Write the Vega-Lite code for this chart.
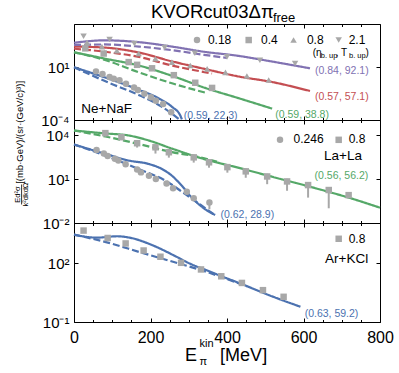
{
"$schema":"https://vega.github.io/schema/vega-lite/v6.json",
"padding":{"left":13,"top":2,"right":2,"bottom":2},
"config":{"font":"Liberation Sans","view":{"stroke":"black","strokeWidth":1},"axis":{"grid":false,"domain":false,"tickColor":"black","labelColor":"black","tickWidth":1}},
"datasets":{
"n1":[
{"E":0,"v":10,"r":"0.18","k":"solid"},{"E":82,"v":1.05,"r":"0.18","k":"solid"},{"E":169,"v":0.0741,"r":"0.18","k":"solid"},{"E":221,"v":0.0115,"r":"0.18","k":"solid"},{"E":256,"v":0.00178,"r":"0.18","k":"solid"},{"E":278,"v":0.000263,"r":"0.18","k":"solid"},{"E":282,"v":0.000112,"r":"0.18","k":"solid"},
{"E":0,"v":10,"r":"0.18","k":"dashed"},{"E":91,"v":0.339,"r":"0.18","k":"dashed"},{"E":169,"v":0.024,"r":"0.18","k":"dashed"},{"E":230,"v":0.00178,"r":"0.18","k":"dashed"},{"E":274,"v":0.000126,"r":"0.18","k":"dashed"},
{"E":57.5,"v":4.07,"r":"0.18","k":"data"},{"E":74.5,"v":2.29,"r":"0.18","k":"data"},{"E":93,"v":1.17,"r":"0.18","k":"data"},{"E":104,"v":0.832,"r":"0.18","k":"data"},{"E":119,"v":0.589,"r":"0.18","k":"data"},{"E":136,"v":0.269,"r":"0.18","k":"data"},{"E":157,"v":0.123,"r":"0.18","k":"data"},{"E":167,"v":0.0692,"r":"0.18","k":"data"},{"E":184,"v":0.0316,"r":"0.18","k":"data"},{"E":201,"v":0.0145,"r":"0.18","k":"data"},{"E":214,"v":0.00676,"r":"0.18","k":"data"},{"E":233,"v":0.00331,"r":"0.18","k":"data"},{"E":254,"v":0.00055,"r":"0.18","k":"data"},
{"E":0,"v":263,"r":"0.4","k":"solid"},{"E":82,"v":64.6,"r":"0.4","k":"solid"},{"E":169,"v":14.8,"r":"0.4","k":"solid"},{"E":256,"v":1.55,"r":"0.4","k":"solid"},{"E":343,"v":0.11,"r":"0.4","k":"solid"},{"E":431,"v":0.0115,"r":"0.4","k":"solid"},{"E":518,"v":0.0012,"r":"0.4","k":"solid"},
{"E":0,"v":263,"r":"0.4","k":"dashed"},{"E":81,"v":49,"r":"0.4","k":"dashed"},{"E":170,"v":3.24,"r":"0.4","k":"dashed"},{"E":256,"v":0.302,"r":"0.4","k":"dashed"},{"E":348,"v":0.0355,"r":"0.4","k":"dashed"},
{"E":29.5,"v":617,"r":"0.4","k":"data"},{"E":77.6,"v":200,"r":"0.4","k":"data"},{"E":143,"v":30.9,"r":"0.4","k":"data"},{"E":165,"v":17,"r":"0.4","k":"data"},{"E":204,"v":7.94,"r":"0.4","k":"data"},{"E":261,"v":1.78,"r":"0.4","k":"data"},{"E":317,"v":0.339,"r":"0.4","k":"data"},{"E":361,"v":0.11,"r":"0.4","k":"data"},
{"E":0,"v":912,"r":"0.8","k":"solid"},{"E":82,"v":724,"r":"0.8","k":"solid"},{"E":169,"v":251,"r":"0.8","k":"solid"},{"E":256,"v":36.3,"r":"0.8","k":"solid"},{"E":343,"v":6.76,"r":"0.8","k":"solid"},{"E":431,"v":1.32,"r":"0.8","k":"solid"},{"E":518,"v":0.398,"r":"0.8","k":"solid"},{"E":617,"v":0.0562,"r":"0.8","k":"solid"},
{"E":0,"v":575,"r":"0.8","k":"dashed"},{"E":81,"v":295,"r":"0.8","k":"dashed"},{"E":170,"v":95.5,"r":"0.8","k":"dashed"},{"E":256,"v":14.8,"r":"0.8","k":"dashed"},{"E":361,"v":2.57,"r":"0.8","k":"dashed"},
{"E":34,"v":2239,"r":"0.8","k":"data"},{"E":73,"v":912,"r":"0.8","k":"data"},{"E":112,"v":372,"r":"0.8","k":"data"},{"E":169,"v":200,"r":"0.8","k":"data"},{"E":213,"v":64.6,"r":"0.8","k":"data"},{"E":256,"v":30.9,"r":"0.8","k":"data"},{"E":304,"v":14.8,"r":"0.8","k":"data"},{"E":348,"v":7.08,"r":"0.8","k":"data"},{"E":396,"v":3.24,"r":"0.8","k":"data"},{"E":452,"v":1.48,"r":"0.8","k":"data"},{"E":509,"v":0.617,"r":"0.8","k":"data"},
{"E":0,"v":2090,"r":"2.1","k":"solid"},{"E":80,"v":3548,"r":"2.1","k":"solid"},{"E":178,"v":2239,"r":"2.1","k":"solid"},{"E":256,"v":912,"r":"2.1","k":"solid"},{"E":340,"v":295,"r":"2.1","k":"solid"},{"E":430,"v":120,"r":"2.1","k":"solid"},{"E":518,"v":34.7,"r":"2.1","k":"solid"},{"E":617,"v":7.94,"r":"2.1","k":"solid"},
{"E":0,"v":1288,"r":"2.1","k":"dashed"},{"E":80,"v":1445,"r":"2.1","k":"dashed"},{"E":170,"v":912,"r":"2.1","k":"dashed"},{"E":256,"v":417,"r":"2.1","k":"dashed"},{"E":340,"v":151,"r":"2.1","k":"dashed"},{"E":400,"v":75.9,"r":"2.1","k":"dashed"},
{"E":25,"v":8710,"r":"2.1","k":"data"},{"E":93,"v":4266,"r":"2.1","k":"data"},{"E":158,"v":1698,"r":"2.1","k":"data"},{"E":237,"v":724,"r":"2.1","k":"data"},{"E":316,"v":214,"r":"2.1","k":"data"},{"E":400,"v":95.5,"r":"2.1","k":"data"},{"E":486,"v":46.8,"r":"2.1","k":"data"},{"E":578,"v":22.9,"r":"2.1","k":"data"}
],
"t1":[
{"E":630,"v":2.06,"t":"(0.84, 92.1)","r":"2.1","role":"lab"},
{"E":630,"v":0.0087,"t":"(0.57, 57.1)","r":"0.8","role":"lab"},
{"E":526,"v":0.000155,"t":"(0.59, 38.8)","r":"0.4","role":"lab"},
{"E":287,"v":0.000138,"t":"(0.59, 22.3)","r":"0.18","role":"lab"},
{"E":19,"v":0.00051,"t":"Ne+NaF","role":"name"},
{"E":624,"v":117,"t":"(η","role":"key"},
{"E":684,"v":117,"t":", T","role":"key"},
{"E":762,"v":117,"t":")","role":"key"},
{"E":645,"v":67.6,"t":"b. up","role":"keysub"},
{"E":719,"v":67.6,"t":"b. up","role":"keysub"},
{"E":321.6,"v":3800,"r":"0.18","role":"keysym"},
{"E":456.7,"v":3800,"r":"0.4","role":"keysym"},
{"E":574,"v":3800,"r":"0.8","role":"keysym"},
{"E":692,"v":3800,"r":"2.1","role":"keysym"},
{"E":350,"v":1510,"t":"0.18","role":"keylab"},
{"E":489,"v":1510,"t":"0.4","role":"keylab"},
{"E":609,"v":1510,"t":"0.8","role":"keylab"},
{"E":718,"v":1510,"t":"2.1","role":"keylab"},
{"E":201,"v":437000,"t":"KVORcut03Δπ","role":"title"},
{"E":520,"v":210000,"t":"free","role":"titlesub"}
],
"n2":[
{"E":0,"v":2400,"r":"0.246","k":"solid"},{"E":82,"v":550,"r":"0.246","k":"solid"},{"E":143,"v":191,"r":"0.246","k":"solid"},{"E":195,"v":112,"r":"0.246","k":"solid"},{"E":230,"v":50.1,"r":"0.246","k":"solid"},{"E":256,"v":17.4,"r":"0.246","k":"solid"},{"E":282,"v":3.55,"r":"0.246","k":"solid"},{"E":308,"v":0.55,"r":"0.246","k":"solid"},{"E":343,"v":0.0871,"r":"0.246","k":"solid"},{"E":369,"v":0.0355,"r":"0.246","k":"solid"},
{"E":0,"v":2400,"r":"0.246","k":"dashed"},{"E":82,"v":417,"r":"0.246","k":"dashed"},{"E":169,"v":50.1,"r":"0.246","k":"dashed"},{"E":239,"v":7.94,"r":"0.246","k":"dashed"},{"E":291,"v":0.955,"r":"0.246","k":"dashed"},{"E":335,"v":0.148,"r":"0.246","k":"dashed"},{"E":366,"v":0.0389,"r":"0.246","k":"dashed"},
{"E":59,"v":1020,"r":"0.246","k":"data"},{"E":78,"v":589,"r":"0.246","k":"data"},{"E":88,"v":389,"r":"0.246","k":"data"},{"E":107,"v":257,"r":"0.246","k":"data"},{"E":116,"v":191,"r":"0.246","k":"data"},{"E":135,"v":105,"r":"0.246","k":"data"},{"E":165,"v":46.8,"r":"0.246","k":"data"},{"E":175,"v":29.5,"r":"0.246","k":"data"},{"E":196,"v":17.4,"r":"0.246","k":"data"},{"E":214,"v":10.2,"r":"0.246","k":"data"},{"E":242,"v":5.13,"r":"0.246","k":"data"},{"E":259,"v":2.4,"r":"0.246","k":"data"},{"E":295,"v":1.41,"r":"0.246","k":"data"},{"E":313,"v":0.501,"r":"0.246","k":"data"},{"E":354,"v":0.251,"hi":0.355,"lo":0.0871,"r":"0.246","k":"data"},
{"E":0,"v":21900,"r":"0.8","k":"solid"},{"E":82,"v":13800,"r":"0.8","k":"solid"},{"E":143,"v":10000,"r":"0.8","k":"solid"},{"E":195,"v":4570,"r":"0.8","k":"solid"},{"E":256,"v":1260,"r":"0.8","k":"solid"},{"E":343,"v":229,"r":"0.8","k":"solid"},{"E":431,"v":60.3,"r":"0.8","k":"solid"},{"E":518,"v":14.8,"r":"0.8","k":"solid"},{"E":622,"v":2.82,"r":"0.8","k":"solid"},{"E":713,"v":0.603,"r":"0.8","k":"solid"},{"E":800,"v":0.112,"r":"0.8","k":"solid"},
{"E":0,"v":21900,"r":"0.8","k":"dashed"},{"E":82,"v":8510,"r":"0.8","k":"dashed"},{"E":170,"v":2570,"r":"0.8","k":"dashed"},{"E":256,"v":724,"r":"0.8","k":"dashed"},{"E":327,"v":331,"r":"0.8","k":"dashed"},{"E":374,"v":162,"r":"0.8","k":"dashed"},
{"E":82,"v":14500,"hi":20400,"lo":8510,"r":"0.8","k":"data"},
{"E":124,"v":7590,"hi":10700,"lo":4900,"r":"0.8","k":"data"},
{"E":165,"v":2950,"hi":4570,"lo":1480,"r":"0.8","k":"data"},
{"E":213,"v":1550,"hi":2190,"lo":575,"r":"0.8","k":"data"},
{"E":248,"v":708,"hi":1000,"lo":302,"r":"0.8","k":"data"},
{"E":313,"v":316,"hi":490,"lo":138,"r":"0.8","k":"data"},
{"E":353,"v":145,"hi":219,"lo":61.7,"r":"0.8","k":"data"},
{"E":401,"v":67.6,"hi":107,"lo":28.2,"r":"0.8","k":"data"},
{"E":449,"v":34.7,"hi":52.5,"lo":12.6,"r":"0.8","k":"data"},
{"E":505,"v":15.5,"hi":24,"lo":4.57,"r":"0.8","k":"data"},
{"E":557,"v":7.08,"hi":10.7,"lo":1.62,"r":"0.8","k":"data"},
{"E":612,"v":3.98,"hi":6.17,"lo":0.55,"r":"0.8","k":"data"},
{"E":666,"v":1.82,"hi":2.82,"lo":0.102,"r":"0.8","k":"data"},
{"E":718,"v":0.813,"r":"0.8","k":"data"}
],
"t2":[
{"E":629,"v":10.5,"t":"(0.56, 56.2)","r":"0.8","role":"lab"},
{"E":383,"v":0.0219,"t":"(0.62, 28.9)","r":"0.246","role":"lab"},
{"E":753,"v":224,"t":"La+La","role":"name"},
{"E":538.6,"v":5030,"r":"0.246","role":"keysym"},
{"E":692,"v":5030,"r":"0.8","role":"keysym"},
{"E":574,"v":2960,"t":"0.246","role":"keylab"},
{"E":718,"v":2960,"t":"0.8","role":"keylab"},
{"E":-141,"v":16200,"t":"[(mb·GeV)/(sr·(GeV/c)³)]","role":"ytitle"},
{"E":-147,"v":0.89,"t":"Ed²σ","role":"yfrac"},
{"E":-126,"v":0.89,"t":"k²dkdΩ","role":"yfrac"},
{"E":-137,"v":4.37,"v2":0.186,"role":"bar"}
],
"n3":[
{"E":0,"v":2950,"r":"0.8","k":"solid"},{"E":60,"v":2090,"r":"0.8","k":"solid"},{"E":112,"v":2450,"r":"0.8","k":"solid"},{"E":152,"v":1950,"r":"0.8","k":"solid"},{"E":190,"v":1120,"r":"0.8","k":"solid"},{"E":217,"v":676,"r":"0.8","k":"solid"},{"E":261,"v":257,"r":"0.8","k":"solid"},{"E":304,"v":95.5,"r":"0.8","k":"solid"},{"E":348,"v":43.7,"r":"0.8","k":"solid"},{"E":391,"v":20,"r":"0.8","k":"solid"},{"E":435,"v":9.33,"r":"0.8","k":"solid"},{"E":509,"v":2.4,"r":"0.8","k":"solid"},{"E":592,"v":0.603,"r":"0.8","k":"solid"},
{"E":0,"v":2950,"r":"0.8","k":"dashed"},{"E":86,"v":1200,"r":"0.8","k":"dashed"},{"E":173,"v":372,"r":"0.8","k":"dashed"},{"E":261,"v":117,"r":"0.8","k":"dashed"},{"E":348,"v":36.3,"r":"0.8","k":"dashed"},{"E":391,"v":18.2,"r":"0.8","k":"dashed"},{"E":452,"v":6.76,"r":"0.8","k":"dashed"},
{"E":25,"v":4790,"r":"0.8","k":"data"},{"E":88,"v":2000,"r":"0.8","k":"data"},{"E":135,"v":1050,"r":"0.8","k":"data"},{"E":182,"v":457,"r":"0.8","k":"data"},{"E":226,"v":219,"r":"0.8","k":"data"},{"E":280,"v":107,"r":"0.8","k":"data"},{"E":332,"v":49,"r":"0.8","k":"data"},{"E":385,"v":21.9,"r":"0.8","k":"data"},{"E":439,"v":10,"r":"0.8","k":"data"},{"E":494,"v":4.27,"r":"0.8","k":"data"},{"E":548,"v":1.95,"r":"0.8","k":"data"}
],
"t3":[
{"E":603,"v":0.174,"t":"(0.63, 59.2)","r":"0.8","role":"lab"},
{"E":769,"v":106,"t":"Ar+KCl","role":"name"},
{"E":692,"v":1820,"r":"0.8","role":"keysym"},
{"E":718,"v":1100,"t":"0.8","role":"keylab"},
{"E":290,"v":0.00105,"t":"E","role":"xt"},
{"E":382,"v":0.00105,"t":"[MeV]","role":"xt"},
{"E":328,"v":0.0051,"t":"kin","role":"xtsup"},
{"E":328,"v":0.00062,"t":"π","role":"xtsup"}
]
},
"spacing":0,
"bounds":"flush",
"resolve":{"scale":{"color":"independent","shape":"independent","strokeDash":"independent"},"legend":{"color":"independent","shape":"independent"}},
"vconcat":[
{
"width":306,"height":96,
"layer":[
{"data":{"name":"n1"},"mark":{"type":"point","opacity":0},
"encoding":{"x":{"field":"E","type":"quantitative","scale":{"domain":[0,800],"nice":false,"zero":false},"axis":{"orient":"bottom","values":[0,50,100,150,200,250,300,350,400,450,500,550,600,650,700,750,800],"labels":false,"tickSize":{"condition":{"test":"datum.value % 200 === 0","value":-4},"value":-2.5},"title":null}},
"y":{"field":"v","type":"quantitative","scale":{"type":"log","domain":[0.0001,126000],"nice":false},"axis":{"orient":"left","values":[0.0001,10],"labelExpr":"datum.value < 0.001 ? '10⁻⁴' : '10¹'","labelFontSize":15,"tickSize":-4,"labelPadding":9,"title":null}}}},
{"data":{"name":"n1"},"mark":{"type":"point","opacity":0},
"encoding":{"x":{"field":"E","type":"quantitative","scale":{"domain":[0,800],"nice":false,"zero":false},"axis":{"orient":"top","values":[0,50,100,150,200,250,300,350,400,450,500,550,600,650,700,750,800],"labels":false,"tickSize":{"condition":{"test":"datum.value % 200 === 0","value":-4},"value":-2.5},"title":null}},
"y":{"field":"v","type":"quantitative","scale":{"type":"log","domain":[0.0001,126000],"nice":false},"axis":{"orient":"right","values":[0.0001,10],"labels":false,"tickSize":-4,"title":null}}}},
{"data":{"name":"n1"},"transform":[{"filter":"datum.k !== 'data'"}],"mark":{"type":"line","strokeWidth":2.2,"interpolate":"monotone"},
"encoding":{"x":{"field":"E","type":"quantitative","scale":{"domain":[0,800],"nice":false,"zero":false},"axis":null},
"y":{"field":"v","type":"quantitative","scale":{"type":"log","domain":[0.0001,126000],"nice":false},"axis":null},
"color":{"field":"r","type":"nominal","scale":{"domain":["0.18","0.4","0.8","2.1"],"range":["#4c72b0","#55a868","#c44e52","#8172b2"]},"legend":null},
"strokeDash":{"field":"k","type":"nominal","scale":{"domain":["solid","dashed"],"range":[[1,0],[7,3]]},"legend":null}}},
{"data":{"name":"n1"},"transform":[{"filter":"datum.k === 'data'"}],"mark":{"type":"point","filled":true,"color":"#a8a8a8","size":42,"opacity":1},
"encoding":{"x":{"field":"E","type":"quantitative","scale":{"domain":[0,800],"nice":false,"zero":false},"axis":null},
"y":{"field":"v","type":"quantitative","scale":{"type":"log","domain":[0.0001,126000],"nice":false},"axis":null},
"shape":{"field":"r","type":"nominal","scale":{"domain":["0.18","0.4","0.8","2.1"],"range":["circle","square","triangle-up","triangle-down"]},"legend":null}}},
{"data":{"name":"t1"},"transform":[{"filter":"datum.role === 'keysym'"}],"mark":{"type":"point","filled":true,"color":"#a8a8a8","size":42,"opacity":1},
"encoding":{"x":{"field":"E","type":"quantitative","scale":{"domain":[0,800],"nice":false,"zero":false},"axis":null},
"y":{"field":"v","type":"quantitative","scale":{"type":"log","domain":[0.0001,126000],"nice":false},"axis":null},
"shape":{"field":"r","type":"nominal","scale":{"domain":["0.18","0.4","0.8","2.1"],"range":["circle","square","triangle-up","triangle-down"]},"legend":null}}},
{"data":{"name":"t1"},"transform":[{"filter":"datum.role === 'keylab'"}],"mark":{"type":"text","fontSize":12,"align":"left","baseline":"alphabetic","color":"black"},
"encoding":{"x":{"field":"E","type":"quantitative","scale":{"domain":[0,800],"nice":false,"zero":false},"axis":null},
"y":{"field":"v","type":"quantitative","scale":{"type":"log","domain":[0.0001,126000],"nice":false},"axis":null},
"text":{"field":"t"}}},
{"data":{"name":"t1"},"transform":[{"filter":"datum.role === 'lab'"}],"mark":{"type":"text","fontSize":10.5,"align":"left","baseline":"alphabetic"},
"encoding":{"x":{"field":"E","type":"quantitative","scale":{"domain":[0,800],"nice":false,"zero":false},"axis":null},
"y":{"field":"v","type":"quantitative","scale":{"type":"log","domain":[0.0001,126000],"nice":false},"axis":null},
"text":{"field":"t"},
"color":{"field":"r","type":"nominal","scale":{"domain":["0.18","0.4","0.8","2.1"],"range":["#4c72b0","#55a868","#c44e52","#8172b2"]},"legend":null}}},
{"data":{"name":"t1"},"transform":[{"filter":"datum.role === 'name'"}],"mark":{"type":"text","fontSize":13.5,"align":"left","baseline":"alphabetic","color":"black"},
"encoding":{"x":{"field":"E","type":"quantitative","scale":{"domain":[0,800],"nice":false,"zero":false},"axis":null},
"y":{"field":"v","type":"quantitative","scale":{"type":"log","domain":[0.0001,126000],"nice":false},"axis":null},
"text":{"field":"t"}}},
{"data":{"name":"t1"},"transform":[{"filter":"datum.role === 'key'"}],"mark":{"type":"text","fontSize":10,"align":"left","baseline":"alphabetic","color":"black"},
"encoding":{"x":{"field":"E","type":"quantitative","scale":{"domain":[0,800],"nice":false,"zero":false},"axis":null},
"y":{"field":"v","type":"quantitative","scale":{"type":"log","domain":[0.0001,126000],"nice":false},"axis":null},
"text":{"field":"t"}}},
{"data":{"name":"t1"},"transform":[{"filter":"datum.role === 'keysub'"}],"mark":{"type":"text","fontSize":7.5,"align":"left","baseline":"alphabetic","color":"black"},
"encoding":{"x":{"field":"E","type":"quantitative","scale":{"domain":[0,800],"nice":false,"zero":false},"axis":null},
"y":{"field":"v","type":"quantitative","scale":{"type":"log","domain":[0.0001,126000],"nice":false},"axis":null},
"text":{"field":"t"}}},
{"data":{"name":"t1"},"transform":[{"filter":"datum.role === 'title'"}],"mark":{"type":"text","fontSize":18.5,"align":"left","baseline":"alphabetic","color":"black"},
"encoding":{"x":{"field":"E","type":"quantitative","scale":{"domain":[0,800],"nice":false,"zero":false},"axis":null},
"y":{"field":"v","type":"quantitative","scale":{"type":"log","domain":[0.0001,126000],"nice":false},"axis":null},
"text":{"field":"t"}}},
{"data":{"name":"t1"},"transform":[{"filter":"datum.role === 'titlesub'"}],"mark":{"type":"text","fontSize":13,"align":"left","baseline":"alphabetic","color":"black"},
"encoding":{"x":{"field":"E","type":"quantitative","scale":{"domain":[0,800],"nice":false,"zero":false},"axis":null},
"y":{"field":"v","type":"quantitative","scale":{"type":"log","domain":[0.0001,126000],"nice":false},"axis":null},
"text":{"field":"t"}}}
],
"resolve":{"axis":{"x":"independent","y":"independent"}}
},
{
"width":306,"height":103,
"layer":[
{"data":{"name":"n2"},"mark":{"type":"point","opacity":0},
"encoding":{"x":{"field":"E","type":"quantitative","scale":{"domain":[0,800],"nice":false,"zero":false},"axis":{"orient":"bottom","values":[0,50,100,150,200,250,300,350,400,450,500,550,600,650,700,750,800],"labels":false,"tickSize":{"condition":{"test":"datum.value % 200 === 0","value":-4},"value":-2.5},"title":null}},
"y":{"field":"v","type":"quantitative","scale":{"type":"log","domain":[0.01,115000],"nice":false},"axis":{"orient":"left","values":[0.01,10,10000],"labelExpr":"datum.value < 0.1 ? '10⁻²' : (datum.value < 100 ? '10¹' : '10⁴')","labelFontSize":15,"tickSize":-4,"labelPadding":9,"title":null}}}},
{"data":{"name":"n2"},"mark":{"type":"point","opacity":0},
"encoding":{"x":{"field":"E","type":"quantitative","scale":{"domain":[0,800],"nice":false,"zero":false},"axis":{"orient":"top","values":[0,50,100,150,200,250,300,350,400,450,500,550,600,650,700,750,800],"labels":false,"tickSize":{"condition":{"test":"datum.value % 200 === 0","value":-4},"value":-2.5},"title":null}},
"y":{"field":"v","type":"quantitative","scale":{"type":"log","domain":[0.01,115000],"nice":false},"axis":{"orient":"right","values":[0.01,10,10000],"labels":false,"tickSize":-4,"title":null}}}},
{"data":{"name":"n2"},"transform":[{"filter":"datum.k !== 'data'"}],"mark":{"type":"line","strokeWidth":2.2,"interpolate":"monotone"},
"encoding":{"x":{"field":"E","type":"quantitative","scale":{"domain":[0,800],"nice":false,"zero":false},"axis":null},
"y":{"field":"v","type":"quantitative","scale":{"type":"log","domain":[0.01,115000],"nice":false},"axis":null},
"color":{"field":"r","type":"nominal","scale":{"domain":["0.246","0.8"],"range":["#4c72b0","#55a868"]},"legend":null},
"strokeDash":{"field":"k","type":"nominal","scale":{"domain":["solid","dashed"],"range":[[1,0],[7,3]]},"legend":null}}},
{"data":{"name":"n2"},"transform":[{"filter":"isValid(datum.lo)"}],"mark":{"type":"rule","color":"#a8a8a8","strokeWidth":2},
"encoding":{"x":{"field":"E","type":"quantitative","scale":{"domain":[0,800],"nice":false,"zero":false},"axis":null},
"y":{"field":"hi","type":"quantitative","scale":{"type":"log","domain":[0.01,115000],"nice":false},"axis":null},
"y2":{"field":"lo"}}},
{"data":{"name":"n2"},"transform":[{"filter":"datum.k === 'data'"}],"mark":{"type":"point","filled":true,"color":"#a8a8a8","size":42,"opacity":1},
"encoding":{"x":{"field":"E","type":"quantitative","scale":{"domain":[0,800],"nice":false,"zero":false},"axis":null},
"y":{"field":"v","type":"quantitative","scale":{"type":"log","domain":[0.01,115000],"nice":false},"axis":null},
"shape":{"field":"r","type":"nominal","scale":{"domain":["0.246","0.8"],"range":["circle","square"]},"legend":null}}},
{"data":{"name":"t2"},"transform":[{"filter":"datum.role === 'keysym'"}],"mark":{"type":"point","filled":true,"color":"#a8a8a8","size":42,"opacity":1},
"encoding":{"x":{"field":"E","type":"quantitative","scale":{"domain":[0,800],"nice":false,"zero":false},"axis":null},
"y":{"field":"v","type":"quantitative","scale":{"type":"log","domain":[0.01,115000],"nice":false},"axis":null},
"shape":{"field":"r","type":"nominal","scale":{"domain":["0.246","0.8"],"range":["circle","square"]},"legend":null}}},
{"data":{"name":"t2"},"transform":[{"filter":"datum.role === 'keylab'"}],"mark":{"type":"text","fontSize":12,"align":"left","baseline":"alphabetic","color":"black"},
"encoding":{"x":{"field":"E","type":"quantitative","scale":{"domain":[0,800],"nice":false,"zero":false},"axis":null},
"y":{"field":"v","type":"quantitative","scale":{"type":"log","domain":[0.01,115000],"nice":false},"axis":null},
"text":{"field":"t"}}},
{"data":{"name":"t2"},"transform":[{"filter":"datum.role === 'lab'"}],"mark":{"type":"text","fontSize":10.5,"align":"left","baseline":"alphabetic"},
"encoding":{"x":{"field":"E","type":"quantitative","scale":{"domain":[0,800],"nice":false,"zero":false},"axis":null},
"y":{"field":"v","type":"quantitative","scale":{"type":"log","domain":[0.01,115000],"nice":false},"axis":null},
"text":{"field":"t"},
"color":{"field":"r","type":"nominal","scale":{"domain":["0.246","0.8"],"range":["#4c72b0","#55a868"]},"legend":null}}},
{"data":{"name":"t2"},"transform":[{"filter":"datum.role === 'name'"}],"mark":{"type":"text","fontSize":13.5,"align":"right","baseline":"alphabetic","color":"black"},
"encoding":{"x":{"field":"E","type":"quantitative","scale":{"domain":[0,800],"nice":false,"zero":false},"axis":null},
"y":{"field":"v","type":"quantitative","scale":{"type":"log","domain":[0.01,115000],"nice":false},"axis":null},
"text":{"field":"t"}}},
{"data":{"name":"t2"},"transform":[{"filter":"datum.role === 'ytitle'"}],"mark":{"type":"text","fontSize":9.5,"angle":270,"align":"center","baseline":"middle","color":"black"},
"encoding":{"x":{"field":"E","type":"quantitative","scale":{"domain":[0,800],"nice":false,"zero":false},"axis":null},
"y":{"field":"v","type":"quantitative","scale":{"type":"log","domain":[0.01,115000],"nice":false},"axis":null},
"text":{"field":"t"}}},
{"data":{"name":"t2"},"transform":[{"filter":"datum.role === 'yfrac'"}],"mark":{"type":"text","fontSize":7.5,"angle":270,"align":"center","baseline":"middle","color":"black"},
"encoding":{"x":{"field":"E","type":"quantitative","scale":{"domain":[0,800],"nice":false,"zero":false},"axis":null},
"y":{"field":"v","type":"quantitative","scale":{"type":"log","domain":[0.01,115000],"nice":false},"axis":null},
"text":{"field":"t"}}},
{"data":{"name":"t2"},"transform":[{"filter":"datum.role === 'bar'"}],"mark":{"type":"rule","color":"black","strokeWidth":0.8},
"encoding":{"x":{"field":"E","type":"quantitative","scale":{"domain":[0,800],"nice":false,"zero":false},"axis":null},
"y":{"field":"v","type":"quantitative","scale":{"type":"log","domain":[0.01,115000],"nice":false},"axis":null},
"y2":{"field":"v2"}}}
],
"resolve":{"axis":{"x":"independent","y":"independent"}}
},
{
"width":306,"height":99,
"layer":[
{"data":{"name":"n3"},"mark":{"type":"point","opacity":0},
"encoding":{"x":{"field":"E","type":"quantitative","scale":{"domain":[0,800],"nice":false,"zero":false},"axis":{"orient":"bottom","values":[0,50,100,150,200,250,300,350,400,450,500,550,600,650,700,750,800],"labelExpr":"datum.value % 200 === 0 ? datum.label : ''","labelFontSize":16,"labelFlush":false,"labelOverlap":false,"labelPadding":11,"tickSize":{"condition":{"test":"datum.value % 200 === 0","value":-4},"value":-2.5},"title":null}},
"y":{"field":"v","type":"quantitative","scale":{"type":"log","domain":[0.1,11700],"nice":false},"axis":{"orient":"left","values":[0.1,100],"labelExpr":"datum.value < 1 ? '10⁻¹' : '10²'","labelFontSize":15,"tickSize":-4,"labelPadding":9,"title":null}}}},
{"data":{"name":"n3"},"mark":{"type":"point","opacity":0},
"encoding":{"x":{"field":"E","type":"quantitative","scale":{"domain":[0,800],"nice":false,"zero":false},"axis":{"orient":"top","values":[0,50,100,150,200,250,300,350,400,450,500,550,600,650,700,750,800],"labels":false,"tickSize":{"condition":{"test":"datum.value % 200 === 0","value":-4},"value":-2.5},"title":null}},
"y":{"field":"v","type":"quantitative","scale":{"type":"log","domain":[0.1,11700],"nice":false},"axis":{"orient":"right","values":[0.1,100],"labels":false,"tickSize":-4,"title":null}}}},
{"data":{"name":"n3"},"transform":[{"filter":"datum.k !== 'data'"}],"mark":{"type":"line","strokeWidth":2.2,"interpolate":"monotone"},
"encoding":{"x":{"field":"E","type":"quantitative","scale":{"domain":[0,800],"nice":false,"zero":false},"axis":null},
"y":{"field":"v","type":"quantitative","scale":{"type":"log","domain":[0.1,11700],"nice":false},"axis":null},
"color":{"field":"r","type":"nominal","scale":{"domain":["0.8"],"range":["#4c72b0"]},"legend":null},
"strokeDash":{"field":"k","type":"nominal","scale":{"domain":["solid","dashed"],"range":[[1,0],[7,3]]},"legend":null}}},
{"data":{"name":"n3"},"transform":[{"filter":"datum.k === 'data'"}],"mark":{"type":"point","filled":true,"color":"#a8a8a8","size":42,"opacity":1},
"encoding":{"x":{"field":"E","type":"quantitative","scale":{"domain":[0,800],"nice":false,"zero":false},"axis":null},
"y":{"field":"v","type":"quantitative","scale":{"type":"log","domain":[0.1,11700],"nice":false},"axis":null},
"shape":{"field":"r","type":"nominal","scale":{"domain":["0.8"],"range":["square"]},"legend":null}}},
{"data":{"name":"t3"},"transform":[{"filter":"datum.role === 'keysym'"}],"mark":{"type":"point","filled":true,"color":"#a8a8a8","size":42,"opacity":1},
"encoding":{"x":{"field":"E","type":"quantitative","scale":{"domain":[0,800],"nice":false,"zero":false},"axis":null},
"y":{"field":"v","type":"quantitative","scale":{"type":"log","domain":[0.1,11700],"nice":false},"axis":null},
"shape":{"field":"r","type":"nominal","scale":{"domain":["0.8"],"range":["square"]},"legend":null}}},
{"data":{"name":"t3"},"transform":[{"filter":"datum.role === 'keylab'"}],"mark":{"type":"text","fontSize":12,"align":"left","baseline":"alphabetic","color":"black"},
"encoding":{"x":{"field":"E","type":"quantitative","scale":{"domain":[0,800],"nice":false,"zero":false},"axis":null},
"y":{"field":"v","type":"quantitative","scale":{"type":"log","domain":[0.1,11700],"nice":false},"axis":null},
"text":{"field":"t"}}},
{"data":{"name":"t3"},"transform":[{"filter":"datum.role === 'lab'"}],"mark":{"type":"text","fontSize":10.5,"align":"left","baseline":"alphabetic"},
"encoding":{"x":{"field":"E","type":"quantitative","scale":{"domain":[0,800],"nice":false,"zero":false},"axis":null},
"y":{"field":"v","type":"quantitative","scale":{"type":"log","domain":[0.1,11700],"nice":false},"axis":null},
"text":{"field":"t"},
"color":{"field":"r","type":"nominal","scale":{"domain":["0.8"],"range":["#4c72b0"]},"legend":null}}},
{"data":{"name":"t3"},"transform":[{"filter":"datum.role === 'name'"}],"mark":{"type":"text","fontSize":13.5,"align":"right","baseline":"alphabetic","color":"black"},
"encoding":{"x":{"field":"E","type":"quantitative","scale":{"domain":[0,800],"nice":false,"zero":false},"axis":null},
"y":{"field":"v","type":"quantitative","scale":{"type":"log","domain":[0.1,11700],"nice":false},"axis":null},
"text":{"field":"t"}}},
{"data":{"name":"t3"},"transform":[{"filter":"datum.role === 'xt'"}],"mark":{"type":"text","fontSize":18,"align":"left","baseline":"alphabetic","color":"black"},
"encoding":{"x":{"field":"E","type":"quantitative","scale":{"domain":[0,800],"nice":false,"zero":false},"axis":null},
"y":{"field":"v","type":"quantitative","scale":{"type":"log","domain":[0.1,11700],"nice":false},"axis":null},
"text":{"field":"t"}}},
{"data":{"name":"t3"},"transform":[{"filter":"datum.role === 'xtsup'"}],"mark":{"type":"text","fontSize":11,"align":"left","baseline":"alphabetic","color":"black"},
"encoding":{"x":{"field":"E","type":"quantitative","scale":{"domain":[0,800],"nice":false,"zero":false},"axis":null},
"y":{"field":"v","type":"quantitative","scale":{"type":"log","domain":[0.1,11700],"nice":false},"axis":null},
"text":{"field":"t"}}}
],
"resolve":{"axis":{"x":"independent","y":"independent"}}
}
]
}
